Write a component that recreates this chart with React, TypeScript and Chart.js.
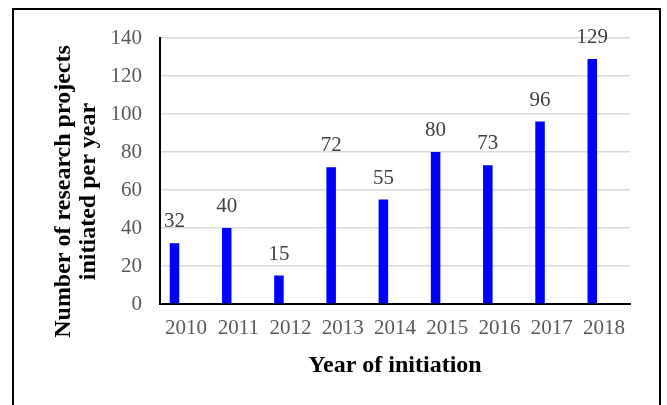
import React, { useEffect, useRef } from "react";
import { Chart, registerables } from "chart.js";

Chart.register(...registerables);

const years = ["2010", "2011", "2012", "2013", "2014", "2015", "2016", "2017", "2018"];
const projectCounts = [32, 40, 15, 72, 55, 80, 73, 96, 129];
// empty second series (shifts the bars left of the category centre, as in the source)
const emptySeries = [null, null, null, null, null, null, null, null, null];
const yMin = 0;
const yMax = 140;
const yStep = 20;
const yTitleLines = ["Number of research projects", "initiated per year"];
const xTitle = "Year of initiation";

const SERIF = "'Liberation Serif', 'Times New Roman', serif";

const labelsAndTitles = {
  id: "labelsAndTitles",
  afterDatasetsDraw(chart: any) {
    const ctx = chart.ctx;
    const meta = chart.getDatasetMeta(0);
    ctx.save();
    ctx.font = `21px ${SERIF}`;
    ctx.fillStyle = "#404040";
    ctx.textAlign = "center";
    ctx.textBaseline = "alphabetic";
    meta.data.forEach((bar: any, i: number) => {
      const v = projectCounts[i];
      ctx.fillText(String(v), bar.x, bar.y - 16);
    });
    ctx.restore();

    const area = chart.chartArea;
    ctx.save();
    ctx.font = `bold 24px ${SERIF}`;
    ctx.fillStyle = "#000000";
    ctx.textAlign = "center";
    ctx.textBaseline = "alphabetic";
    ctx.fillText(xTitle, (area.left + area.right) / 2, 372);
    ctx.restore();

    ctx.save();
    ctx.font = `bold 24px ${SERIF}`;
    ctx.fillStyle = "#000000";
    ctx.textAlign = "center";
    ctx.textBaseline = "alphabetic";
    const cy = 191.5;
    const baselines = [70, 95];
    yTitleLines.forEach((line, i) => {
      ctx.save();
      ctx.translate(baselines[i], cy);
      ctx.rotate(-Math.PI / 2);
      ctx.fillText(line, 0, 0);
      ctx.restore();
    });
    ctx.restore();
  },
};

export default function App() {
  const canvasRef = useRef<HTMLCanvasElement | null>(null);

  useEffect(() => {
    if (!canvasRef.current) return;
    const chart = new Chart(canvasRef.current, {
      type: "bar",
      data: {
        labels: years,
        datasets: [
          {
            data: projectCounts,
            backgroundColor: "#0000FF",
            borderWidth: 0,
            categoryPercentage: 0.89,
            barPercentage: 0.41,
          },
          {
            data: emptySeries as any,
            backgroundColor: "#0000FF",
            borderWidth: 0,
            categoryPercentage: 0.89,
            barPercentage: 0.41,
          },
        ],
      },
      options: {
        responsive: false,
        animation: false,
        devicePixelRatio: 1,
        layout: { padding: { left: 0, top: 38, right: 37, bottom: 0 } },
        plugins: {
          legend: { display: false },
          tooltip: { enabled: false },
          title: { display: false },
        },
        scales: {
          x: {
            grid: { display: false, drawTicks: false },
            border: { display: true, color: "#000000", width: 2 },
            ticks: {
              color: "#595959",
              font: { family: SERIF, size: 21 },
              padding: 12,
              maxRotation: 0,
              autoSkip: false,
            },
            afterFit(scale: any) {
              scale.height = 101;
            },
          },
          y: {
            min: yMin,
            max: yMax,
            grid: { color: "#d9d9d9", lineWidth: 1.5, drawTicks: false },
            border: { display: true, color: "#000000", width: 2 },
            ticks: {
              stepSize: yStep,
              color: "#595959",
              font: { family: SERIF, size: 21 },
              padding: 18,
            },
            afterFit(scale: any) {
              scale.width = 160;
            },
          },
        },
      },
      plugins: [labelsAndTitles],
    });
    return () => chart.destroy();
  }, []);

  return (
    <div
      style={{
        position: "fixed",
        left: 0,
        top: 0,
        width: 667,
        height: 405,
        overflow: "hidden",
        background: "#ffffff",
      }}
    >
      <div
        style={{
          position: "absolute",
          left: 12,
          top: 8,
          width: 649,
          height: 500,
          border: "2px solid #000000",
          boxSizing: "border-box",
        }}
      />
      <canvas
        ref={canvasRef}
        width={667}
        height={405}
        style={{ position: "absolute", left: 0, top: 0, display: "block" }}
      />
    </div>
  );
}
